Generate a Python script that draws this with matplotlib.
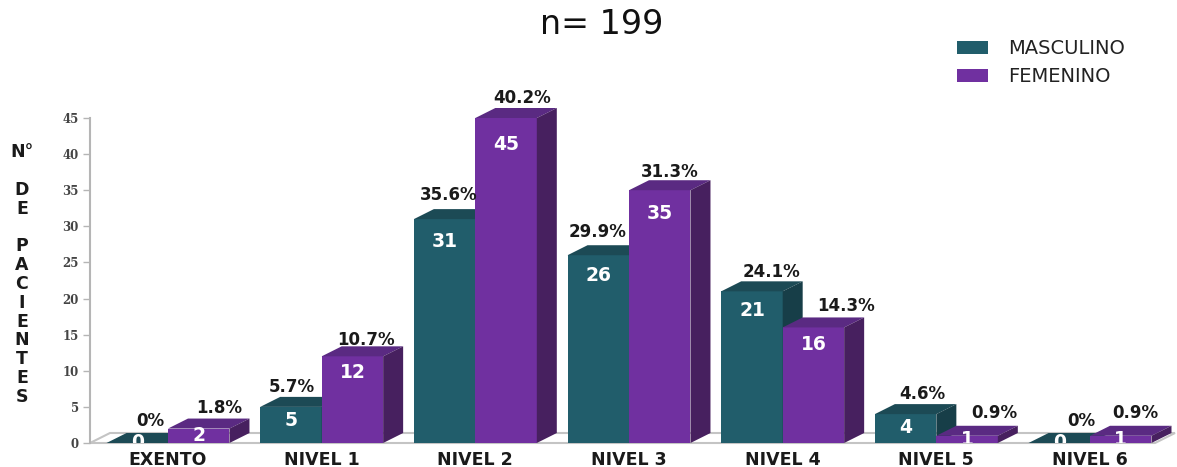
import matplotlib
matplotlib.use("Agg")
import matplotlib.pyplot as plt
from matplotlib.patches import Polygon, Rectangle

# Patients per level and sex
categories = ["EXENTO", "NIVEL 1", "NIVEL 2", "NIVEL 3", "NIVEL 4", "NIVEL 5", "NIVEL 6"]
masculino = [0, 5, 31, 26, 21, 4, 0]
femenino = [2, 12, 45, 35, 16, 1, 1]
pct_masculino = [0, 5.7, 35.6, 29.9, 24.1, 4.6, 0]
pct_femenino = [1.8, 10.7, 40.2, 31.3, 14.3, 0.9, 0.9]
y_ticks = [0, 5, 10, 15, 20, 25, 30, 35, 40, 45]

# Nudges (pixels) for the percent labels, they dodge the neighbouring bar
nudge_masc = [(13, 22), (1, 20), (4, 24), (-1, 23), (20, 19), (17, 20), (22, 22)]
nudge_fem = [(20, 21), (14, 16), (16, 20), (10, 18), (33, 21), (27, 23), (15, 23)]

W, H = 1177, 467
PX_Y = 325 / 45  # pixels per patient
BAR_W = 0.4
DX = 20 / 153.67  # depth of the fake 3d, in group units
DY = 10 / PX_Y

TEAL = ("#215D6B", "#1C4A55", "#173E48")
PURPLE = ("#7030A0", "#5A2A82", "#47205F")
SANS = "DejaVu Sans"

fig = plt.figure(figsize=(W / 100, H / 100), dpi=100, facecolor="white")
ax = fig.add_axes([90 / W, (H - 443) / H, (1175 - 90) / W, 325 / H])
ax.set_xlim((90 - 168) / 153.67, (1175 - 168) / 153.67)
ax.set_ylim(0, 45)
for side in ["top", "right", "bottom"]:
    ax.spines[side].set_visible(False)
ax.spines["left"].set_color("#b5b5b5")
ax.spines["left"].set_linewidth(1.5)


def draw_bar(x, v, colors, zorder):
    # front face through bar(), then the top and side faces from the same value
    front, top, side = colors
    ax.bar(x, v, BAR_W, align="edge", color=front, zorder=zorder, linewidth=0)
    ax.add_patch(Polygon([(x, v), (x + DX, v + DY), (x + BAR_W + DX, v + DY), (x + BAR_W, v)],
                         facecolor=top, edgecolor="none", zorder=zorder, clip_on=False))
    ax.add_patch(Polygon([(x + BAR_W, 0), (x + BAR_W + DX, DY), (x + BAR_W + DX, v + DY), (x + BAR_W, v)],
                         facecolor=side, edgecolor="none", zorder=zorder, clip_on=False))
    label_y = v - min(v / 2, 1.7 + 0.045 * v)
    ax.text(x + BAR_W / 2, label_y, str(v), color="white", ha="center", va="center",
            fontsize=13.5, fontweight="bold", family=SANS, zorder=zorder + 0.5, clip_on=True)


# floor of the chart
ax.add_patch(Polygon([(ax.get_xlim()[0], 0), (ax.get_xlim()[0] + DX, DY),
                      (ax.get_xlim()[1], DY), (ax.get_xlim()[1] - DX, 0)],
                     facecolor="white", edgecolor="#c4c4c4", linewidth=1.5, zorder=1, clip_on=False))

for i, cat in enumerate(categories):
    draw_bar(i - BAR_W, masculino[i], TEAL, 3 + i)
    draw_bar(i, femenino[i], PURPLE, 3.6 + i)
    ax.annotate(f"{pct_masculino[i]:g}%", (i - BAR_W / 2, masculino[i]), xytext=nudge_masc[i],
                textcoords="offset pixels", ha="center", va="center", fontsize=12,
                fontweight="bold", family=SANS, color="#1a1a1a", zorder=20, annotation_clip=False)
    ax.annotate(f"{pct_femenino[i]:g}%", (i + BAR_W / 2, femenino[i]), xytext=nudge_fem[i],
                textcoords="offset pixels", ha="center", va="center", fontsize=12,
                fontweight="bold", family=SANS, color="#1a1a1a", zorder=20, annotation_clip=False)

ax.set_xticks(range(len(categories)))
ax.set_xticklabels(categories, fontsize=12.5, fontweight="bold", family=SANS, color="#1a1a1a")
ax.tick_params(axis="x", length=0, pad=6)
ax.set_yticks(y_ticks)
ax.set_yticklabels(y_ticks, fontsize=8.5, fontweight="bold", family="DejaVu Serif", color="#444444")
ax.tick_params(axis="y", length=5, width=1, color="#b5b5b5", pad=3)

# stacked letters of the axis title
fig.text(22 / W, 1 - 143 / H, "N°\n\nD\nE\n\nP\nA\nC\nI\nE\nN\nT\nE\nS", ha="center", va="top",
         fontsize=12.5, fontweight="bold", family=SANS, color="#1a1a1a", linespacing=1.06)

fig.text(602 / W, 1 - 25 / H, "n= 199", ha="center", va="center", fontsize=24, family=SANS, color="#111111")

# legend drawn by hand, swatch and name per series
for name, colors, py in [("MASCULINO", TEAL, 48), ("FEMENINO", PURPLE, 76)]:
    fig.add_artist(Rectangle((957 / W, 1 - (py + 6) / H), 31 / W, 13 / H, transform=fig.transFigure,
                             facecolor=colors[0], edgecolor="none"))
    fig.text(1008 / W, 1 - py / H, name, ha="left", va="center", fontsize=14, family=SANS, color="#222222")

fig.savefig("out.png", dpi=100)
